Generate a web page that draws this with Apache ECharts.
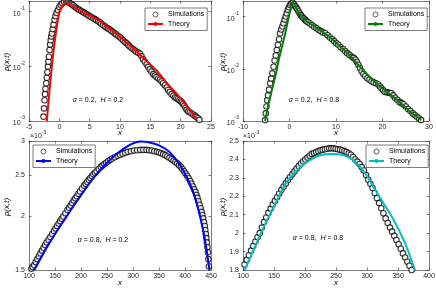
<!DOCTYPE html>
<html><head><meta charset="utf-8">
<script src="https://cdn.jsdelivr.net/npm/echarts@6/dist/echarts.min.js"></script>
<style>html,body{margin:0;padding:0;background:#fff}#c{width:436px;height:288px}</style>
</head><body><div id="c"></div>
<script>
// ---------- Panel A: alpha=0.2, H=0.2 (semilog y) ----------
const simA_x = [-2.60,-2.52,-2.44,-2.36,-2.28,-2.16,-2.06,-1.97,-1.89,-1.80,-1.71,-1.61,-1.52,-1.42,-1.33,-1.23,-1.10,-0.95,-0.79,-0.62,-0.45,-0.24,0.00,0.25,0.50,0.80,
  1.15,1.35,1.5,1.7,1.9,2.1,2.3,2.55,2.8,3.05,3.3,3.6,3.9,4.15,4.45,4.7,5.0,5.3,5.6,5.85,6.1,6.4,6.65,6.9,7.2,7.5,7.8,8.05,8.3,8.6,8.9,9.15,9.4,9.7,10.0,10.25,10.5,10.8,11.1,11.35,11.6,11.9,12.2,12.45,12.7,13.0,13.3,13.55,13.8,14.1,14.4,14.65,14.9,15.2,15.5,15.75,16.0,16.3,16.6,16.85,17.1,17.4,17.7,17.95,18.2,18.5,18.8,19.05,19.3,19.55,19.8,20.0,20.2,20.4,20.6,20.8,21.0,21.25,21.5,21.8,22.1,22.35,22.6,22.85,23.1];
const simA_y = [0.0012,0.0017,0.0024,0.0031,0.0039,0.0049,0.0062,0.0078,0.0099,0.0122,0.0150,0.020,0.025,0.030,0.035,0.040,0.048,0.058,0.071,0.083,0.095,0.107,0.122,0.134,0.143,0.150,
  0.153,0.152,0.150,0.145,0.140,0.135,0.130,0.123,0.117,0.112,0.108,0.103,0.099,0.095,0.091,0.087,0.083,0.079,0.076,0.073,0.070,0.067,0.064,0.060,0.057,0.054,0.051,0.049,0.047,0.0445,0.042,0.040,0.038,0.036,0.034,0.032,0.030,0.028,0.0264,0.0247,0.023,0.0217,0.0205,0.0195,0.0185,0.0178,0.0170,0.0153,0.0135,0.0121,0.0108,0.0098,0.0088,0.0080,0.0072,0.0068,0.0064,0.0060,0.0057,0.0053,0.0049,0.0045,0.0041,0.0037,0.0034,0.0031,0.0029,0.0027,0.0026,0.0025,0.0024,0.0023,0.0022,0.00205,0.0019,0.00175,0.0016,0.0015,0.00145,0.00137,0.0013,0.00124,0.00118,0.00112,0.00105];
const thA_x = [-2.06,-1.80,-1.50,-1.07,-0.50,0.04,0.54,1.15,2.0,3.0,4.5,6.65,8.5,10.5,12.2,14.0,16.0,17.7,19.5,21.0,22.6];
const thA_y = [0.001,0.0022,0.0049,0.015,0.046,0.100,0.130,0.143,0.130,0.112,0.090,0.068,0.047,0.031,0.0215,0.0138,0.0085,0.0050,0.0030,0.0019,0.0011];

// ---------- Panel B: alpha=0.2, H=0.8 (semilog y) ----------
const simB_x = [-5.25,-5.10,-4.95,-4.80,-4.62,-4.40,-4.16,-3.95,-3.70,-3.43,-3.20,-2.95,-2.73,-2.50,-2.25,-2.02,-1.78,-1.53,-1.29,-1.05,-0.82,-0.59,-0.35,-0.12,0.12,0.40,
  0.70,0.95,1.2,1.45,1.7,1.95,2.2,2.45,2.7,3.0,3.3,3.6,3.9,4.35,4.8,5.3,5.8,6.25,6.7,7.2,7.7,8.2,8.7,9.15,9.6,10.05,10.5,11.0,11.5,11.95,12.4,12.9,13.4,13.8,14.2,14.5,14.8,15.15,15.5,15.9,16.3,16.75,17.2,17.65,18.1,18.6,19.1,19.45,19.8,20.15,20.5,20.9,21.3,21.6,21.9,22.3,22.7,23.2,23.7,24.1,24.5,25.0,25.5,26.0,26.5,26.95,27.4,27.85,28.3];
const simB_y = [0.00104,0.0014,0.0019,0.0025,0.0031,0.0040,0.0053,0.0065,0.0082,0.011,0.0145,0.018,0.023,0.029,0.037,0.048,0.057,0.065,0.075,0.088,0.101,0.116,0.135,0.152,0.168,0.178,
  0.185,0.172,0.160,0.149,0.138,0.126,0.115,0.107,0.100,0.094,0.088,0.083,0.079,0.074,0.069,0.064,0.060,0.056,0.053,0.050,0.048,0.044,0.040,0.037,0.034,0.031,0.029,0.026,0.024,0.022,0.020,0.0185,0.017,0.0162,0.0150,0.0135,0.0120,0.0104,0.0090,0.0080,0.0072,0.0066,0.0062,0.0058,0.0055,0.0053,0.0050,0.0046,0.0042,0.0039,0.0036,0.00355,0.0035,0.00345,0.0034,0.0031,0.0028,0.00255,0.0023,0.0022,0.0021,0.0019,0.0017,0.00155,0.0014,0.0013,0.0012,0.00112,0.00104];
const thB_x = [-5.25,-4.5,-3.75,-3.0,-2.3,-1.6,-0.87,-0.2,0.3,0.75,2.0,3.5,5.0,7.7,10.5,13.4,16.0,18.5,21.0,23.5,26.0,28.3];
const thB_y = [0.001,0.0022,0.0040,0.0075,0.015,0.027,0.050,0.095,0.145,0.185,0.120,0.085,0.068,0.047,0.029,0.0165,0.0090,0.0055,0.0036,0.0024,0.0015,0.00105];

// ---------- Panel C: alpha=0.8, H=0.2 (semilog y, values x10^-3) ----------
const simC_x = [104.6,107,110,113,116,119,122,125,128,131,134,137.5,141,144.5,148,151,154,157,160,163,166,170,174,177,180,183,186,189,192,195,198,202,206,209,212,215,218,221,224,227,230,234,238,241.5,245,248.5,252,256,260,265,270,275,280,285,290,296,302,308,314,320,326,331,336,341,346,350,354,358,362,366,370,374,378,381.5,385,388.5,392,395,398,401,404,407,410,412.5,415,417.5,420,422,424,426,428,430,432,433.5,435,436.5,438,439,440,441,442,443,444,445,446];
const simC_y = [1.51,1.525,1.54,1.565,1.59,1.615,1.64,1.665,1.69,1.715,1.74,1.765,1.79,1.82,1.85,1.875,1.90,1.925,1.95,1.975,2.00,2.035,2.07,2.095,2.12,2.15,2.18,2.205,2.23,2.26,2.29,2.325,2.36,2.385,2.41,2.435,2.46,2.485,2.51,2.53,2.55,2.58,2.61,2.63,2.65,2.67,2.69,2.71,2.73,2.75,2.77,2.785,2.80,2.815,2.83,2.84,2.85,2.855,2.86,2.86,2.86,2.855,2.85,2.84,2.83,2.82,2.81,2.795,2.78,2.76,2.74,2.72,2.70,2.68,2.66,2.635,2.61,2.58,2.55,2.52,2.49,2.455,2.42,2.385,2.35,2.315,2.28,2.245,2.21,2.17,2.13,2.09,2.05,2.015,1.98,1.94,1.90,1.86,1.82,1.78,1.74,1.695,1.65,1.59,1.53];
const thC_x = [110,125,140,155,170,185,200,215,230,245,260,275,290,303,315,330,350,370,390,405,418,428,436,442,447];
const thC_y = [1.50,1.62,1.74,1.86,1.98,2.11,2.24,2.38,2.51,2.63,2.74,2.84,2.92,2.97,2.99,2.98,2.93,2.83,2.64,2.45,2.24,2.02,1.83,1.66,1.50];

// ---------- Panel D: alpha=0.8, H=0.8 (linear y, values x10^-3) ----------
const simD_x = [99,102.5,106,109.5,113,116.5,120,123.5,127,130.5,134,137.5,141,144.5,148,151.5,155,158.5,162,165.5,169,172.5,176,179.5,183,186.5,190,193.5,197,200.5,204,207.5,211,214.5,218,221.5,225,228.5,232,235.5,239,242.5,246,249.5,253,256.5,260,263.5,267,270.5,274,277.5,281,284.5,288,291.5,295,298.5,302,305.5,309,312.5,316,319.5,323,326.5,330,333.5,337,340.5,344,347.5,351,354.5,358,361.5,365,368.5,372];
const simD_y = [1.80,1.83,1.855,1.88,1.905,1.93,1.955,1.978,2.00,2.03,2.06,2.085,2.11,2.133,2.155,2.175,2.195,2.215,2.235,2.253,2.27,2.288,2.305,2.32,2.335,2.35,2.365,2.378,2.39,2.40,2.41,2.42,2.43,2.435,2.44,2.445,2.45,2.453,2.455,2.458,2.46,2.46,2.46,2.458,2.455,2.453,2.45,2.445,2.44,2.433,2.425,2.413,2.40,2.388,2.375,2.358,2.34,2.315,2.29,2.268,2.245,2.218,2.19,2.163,2.135,2.108,2.08,2.055,2.03,2.008,1.985,1.963,1.94,1.915,1.89,1.868,1.845,1.823,1.80];
const thD_x = [103,117,131,143,155,167,179,190,201,212,222,233,243,254,265,276,286,300,313,327,340,351,362,370,377.6];
const thD_y = [1.80,1.91,2.015,2.10,2.18,2.26,2.31,2.35,2.38,2.405,2.42,2.428,2.43,2.428,2.42,2.40,2.37,2.31,2.235,2.16,2.09,2.02,1.94,1.87,1.80];

// ---------- tick labels ----------
const logTicksTop = [0.001, 0.01, 0.1];
const ticksC = [1.5, 2, 2.5, 3];
const seriesNames = ['Simulations', 'Theory'];
const theoryColors = ['#ff0000', '#008000', '#0000ff', '#00bfbf'];
const annotations = [['0.2','0.2'], ['0.2','0.8'], ['0.8','0.2'], ['0.8','0.8']];

// ---------- build ----------
const FONT = '"Liberation Sans", Arial, Helvetica, sans-serif';
const AX = '#262626';
const L = Math.log10;
const zip = (xs, ys, f) => xs.slice(0, Math.min(xs.length, ys.length)).map((x, i) => [x, f ? f(ys[i]) : ys[i]]);

const grids = [
  {left: 29, top: 1, width: 182, height: 120},
  {left: 243, top: 1, width: 186, height: 120},
  {left: 29, top: 141, width: 182, height: 129},
  {left: 243, top: 141, width: 186, height: 129}
].map(g => Object.assign({outerBoundsMode: 'none', containLabel: false, show: false}, g));

const lineS = {color: AX, width: 0.6};
function xAxes(gi, min, max, interval) {
  const base = {type: 'value', gridIndex: gi, min, max, interval, splitLine: {show: false},
    axisLine: {show: true, onZero: false, lineStyle: lineS},
    axisTick: {show: true, inside: true, length: 2.5, lineStyle: lineS}};
  return [
    Object.assign({}, base, {position: 'bottom', axisLabel: {show: true, color: AX, fontSize: 7, fontFamily: FONT, margin: 3, showMinLabel: true, showMaxLabel: true}}),
    Object.assign({}, base, {position: 'top', axisLabel: {show: false}})
  ];
}
function yAxes(gi, min, max, ex) {
  const tick = {show: true, inside: true, length: 2.5, lineStyle: lineS};
  const lab = {show: true, color: AX, fontSize: 7, fontFamily: FONT, margin: 4, showMinLabel: true, showMaxLabel: true};
  if (ex.ticks) { tick.customValues = ex.ticks; lab.customValues = ex.ticks; }
  if (ex.formatter) lab.formatter = ex.formatter;
  if (ex.rich) lab.rich = ex.rich;
  const base = {type: 'value', gridIndex: gi, min, max, splitLine: {show: false},
    axisLine: {show: true, onZero: false, lineStyle: lineS}};
  if (ex.interval) base.interval = ex.interval;
  return [
    Object.assign({}, base, {position: 'left', axisTick: tick, axisLabel: lab}),
    Object.assign({}, base, {position: 'right', axisTick: Object.assign({}, tick), axisLabel: {show: false}})
  ];
}
const logRich = {
  b: {fontSize: 7, fontFamily: FONT, color: AX, lineHeight: 11, verticalAlign: 'bottom'},
  s: {fontSize: 5, fontFamily: FONT, color: AX, lineHeight: 6, verticalAlign: 'top'}
};
const logFmt = v => '{b|10}{s|' + Math.round(v) + '}';

const xAxis = [].concat(xAxes(0, -5, 25, 5), xAxes(1, -10, 30, 10), xAxes(2, 100, 450, 50), xAxes(3, 100, 400, 50));
const yAxis = [].concat(
  yAxes(0, -3, L(0.157), {ticks: logTicksTop.map(L), formatter: logFmt, rich: logRich}),
  yAxes(1, -3, L(0.2), {ticks: logTicksTop.map(L), formatter: logFmt, rich: logRich}),
  yAxes(2, L(1.5), L(3), {ticks: ticksC.map(L), formatter: v => String(Math.round(Math.pow(10, v) * 10) / 10)}),
  yAxes(3, 1.8, 2.5, {interval: 0.1})
);

const panels = [
  {sim: zip(simA_x, simA_y, L), th: zip(thA_x, thA_y, L)},
  {sim: zip(simB_x, simB_y, L), th: zip(thB_x, thB_y, L)},
  {sim: zip(simC_x, simC_y, L), th: zip(thC_x, thC_y, L)},
  {sim: zip(simD_x, simD_y), th: zip(thD_x, thD_y)}
];
const series = [];
panels.forEach((p, i) => {
  series.push({name: seriesNames[0] + i, type: 'scatter', xAxisIndex: 2 * i, yAxisIndex: 2 * i, data: p.sim,
    symbol: 'circle', symbolSize: 5.5, silent: true, animation: false, z: 2, large: false,
    itemStyle: {color: '#fff', borderColor: '#000', borderWidth: 1.1}});
  series.push({name: seriesNames[1] + i, type: 'line', xAxisIndex: 2 * i, yAxisIndex: 2 * i, data: p.th,
    symbol: 'none', smooth: 0.2, silent: true, animation: false, z: 3,
    lineStyle: {color: theoryColors[i], width: 2}, itemStyle: {color: theoryColors[i]}});
});

const legendPos = [[145, 8], [365, 8], [33, 145], [366, 145]];
const legend = legendPos.map((pos, i) => ({
  show: true, left: pos[0], top: pos[1], orient: 'vertical',
  data: [seriesNames[0] + i, seriesNames[1] + i],
  formatter: n => n.replace(/\d$/, ''),
  itemWidth: 15, itemHeight: 5, itemGap: 0.5, padding: [2, 3, 2, 2],
  borderColor: AX, borderWidth: 0.6, backgroundColor: '#fff', selectedMode: false,
  itemStyle: {borderWidth: 0.8},
  textStyle: {fontSize: 7, fontFamily: FONT, color: '#000', lineHeight: 9}
}));

function txt(x, y, text, o) {
  return Object.assign({type: 'text', x, y, silent: true, z: 10,
    style: Object.assign({text, fontSize: 7, fontFamily: FONT, fill: '#000', align: 'center', verticalAlign: 'middle'}, o && o.style)}, o && o.el);
}
const ital = {fontStyle: 'italic', fontSize: 7, fontFamily: FONT, fill: '#000'};
const annotPos = [[98, 100], [314, 100], [103, 240], [318, 238]];
const graphic = [];
annotations.forEach((a, i) => {
  graphic.push(txt(annotPos[i][0], annotPos[i][1], '{i|α} = ' + a[0] + ',  {i|H} = ' + a[1], {style: {rich: {i: ital}}}));
});
const xNamePos = [[120, 133], [336, 133], [120, 283], [336, 283]];
const yNamePos = [[7, 62], [223, 62], [7, 207], [223, 207]];
xNamePos.forEach(p => graphic.push(txt(p[0], p[1], 'x', {style: {fontStyle: 'italic', fontSize: 8}})));
yNamePos.forEach(p => graphic.push(txt(p[0], p[1], 'p(x,t)', {style: {fontStyle: 'italic', fontSize: 8}, el: {rotation: Math.PI / 2}})));
const expRich = {b: {fontSize: 7, fontFamily: FONT, fill: AX, lineHeight: 10, verticalAlign: 'bottom'}, s: {fontSize: 5, fontFamily: FONT, fill: AX, lineHeight: 6, verticalAlign: 'top'}};
[[30, 135], [243, 135]].forEach(p => graphic.push(txt(p[0], p[1], '{b|×10}{s|-3}', {style: {align: 'left', rich: expRich}})));

const chart = echarts.init(document.getElementById('c'), null, {renderer: 'canvas'});
chart.setOption({animation: false, backgroundColor: '#fff', grid: grids, xAxis, yAxis, series, legend, graphic});
</script>
</body></html>
